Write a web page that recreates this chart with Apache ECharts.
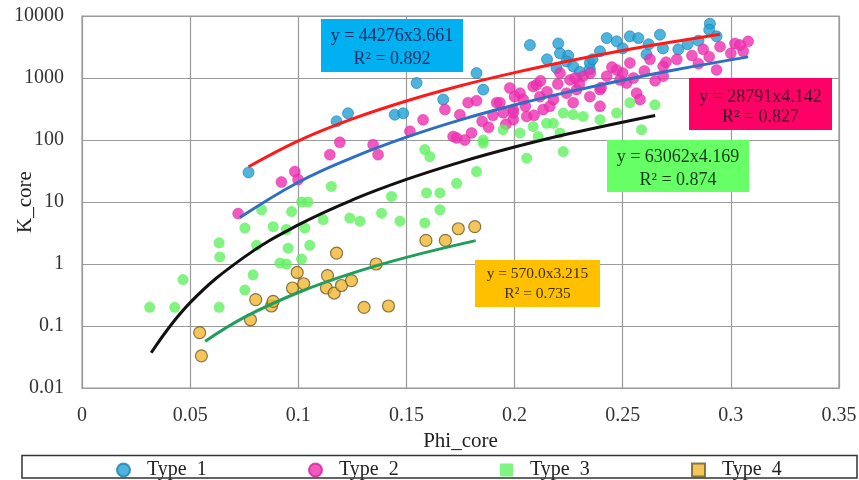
<!DOCTYPE html>
<html><head><meta charset="utf-8">
<script src="https://cdn.jsdelivr.net/npm/echarts/dist/echarts.min.js"></script>
<style>html,body{margin:0;padding:0;background:#fff}#c{width:859px;height:480px}</style>
</head><body><div id="c"></div><script>
// ---- data ----
const seriesNames = ['Type  1', 'Type  2', 'Type  3', 'Type  4'];
const xTickLabels = ['0', '0.05', '0.1', '0.15', '0.2', '0.25', '0.3', '0.35'];
const yTickLabels = ['0.01', '0.1', '1', '10', '100', '1000', '10000'];

const type1Phi = [0.077,0.1177,0.123,0.1446,0.1485,0.1547,0.1824,0.1855,0.167,0.2071,0.2202,0.221,0.2248,0.2194,0.224,0.2271,0.2302,0.2348,0.2348,0.2395,0.2426,0.2472,0.2533,0.2572,0.261,0.2672,0.2686,0.2757,0.2903,0.29,0.2934,0.25,0.236,0.215,0.262,0.28,0.285];
const type1K   = [30,200,270,256,270,830,1200,650,450,3400,3600,2500,2300,1450,1850,1540,1250,1400,1750,2700,4400,3900,4700,4400,2400,5000,3000,2900,7500,6000,4700,3000,2000,2000,3500,3500,4000];

const type2Phi = [0.0722,0.0922,0.0984,0.0999,0.1146,0.1192,0.1346,0.1369,0.1516,0.1577,0.1678,0.1785,0.1824,0.1732,0.177,0.1801,0.1747,0.1917,0.1994,0.1994,0.2025,0.2086,0.2056,0.1978,0.204,0.2102,0.2117,0.2132,0.1994,0.221,0.2256,0.2287,0.2348,0.2395,0.2317,0.2426,0.2472,0.2533,0.2518,0.2564,0.258,0.2626,0.2687,0.2687,0.275,0.1932,0.1948,0.2163,0.2271,0.224,0.2395,0.1716,0.2487,0.2872,0.2934,0.295,0.3019,0.308,0.3057,0.3042,0.282,0.27,0.185,0.19,0.205,0.215,0.22,0.23,0.235,0.245,0.26,0.265,0.218,0.209,0.196,0.188,0.2,0.212,0.228,0.24,0.25,0.255,0.285,0.29,0.3];
const type2K   = [6.5,21,31,23,58,92,84,58,138,212,310,400,430,108,100,130,256,400,310,213,570,730,240,690,450,780,500,310,275,1200,930,650,500,350,1070,1070,1350,1750,830,570,450,2000,1540,1070,2000,400,275,350,400,570,650,114,930,2900,1350,3200,3600,3900,2700,3400,2300,1800,200,250,350,600,800,800,1200,1500,1300,900,450,250,180,160,500,900,1000,700,1200,1000,1700,2200,2500];

const type3Phi = [0.0313,0.0429,0.0467,0.0634,0.0634,0.0637,0.0791,0.0753,0.0807,0.0915,0.0945,0.1015,0.0953,0.1053,0.083,0.0969,0.1015,0.0753,0.0884,0.103,0.1115,0.1238,0.1285,0.1385,0.147,0.1585,0.1655,0.1045,0.1153,0.0945,0.1431,0.1585,0.1593,0.1947,0.2056,0.1824,0.1732,0.1855,0.2025,0.2086,0.2225,0.2179,0.2271,0.2317,0.2395,0.2472,0.2533,0.2649,0.2587,0.221,0.2109,0.1855,0.2148,0.2225,0.1655,0.1608];
const type3K   = [0.2,0.2,0.56,0.2,2.2,1.3,0.67,0.38,2.0,1.04,1.0,1.2,1.8,2.0,7.5,7,10,3.8,4.0,3.8,5.2,5.5,4.9,6.6,4.9,4.6,7.5,10,17.8,3.6,12.3,70,14,147,51,31,20,100,130,165,65,186,257,240,213,272,400,370,147,130,114,89,186,272,14,54];

const type4Phi = [0.0544,0.0552,0.0779,0.0803,0.0876,0.0884,0.0973,0.0995,0.1025,0.1135,0.113,0.1166,0.1177,0.12,0.1246,0.1304,0.1417,0.136,0.159,0.168,0.174,0.1816];
const type4K   = [0.078,0.033,0.126,0.266,0.21,0.25,0.41,0.73,0.48,0.65,0.41,0.34,1.5,0.45,0.54,0.2,0.21,1.0,2.4,2.4,3.7,4.0];

// trend lines
const fit1Phi = [0.077,0.1,0.125,0.15,0.175,0.2,0.225,0.25,0.275,0.295];
const fit1K   = [37,97,219,426,750,1220,1880,2770,3920,5070];
const fit2Phi = [0.073,0.1,0.125,0.15,0.175,0.2,0.225,0.25,0.275,0.308];
const fit2K   = [5.6,20.8,52,111,211,366,597,923,1370,2190];
const fit3Phi = [0.032,0.05,0.075,0.1,0.125,0.15,0.175,0.2,0.225,0.265];
const fit3K   = [0.037,0.238,1.29,4.27,10.8,23.1,44,76.9,126,249];
const fit4Phi = [0.057,0.075,0.1,0.125,0.15,0.182];
const fit4K   = [0.057,0.138,0.347,0.712,1.28,2.38];

const fitLabels = [
  ['y = 44276x3.661', 'R\u00b2 = 0.892'],
  ['y = 28791x4.142', 'R\u00b2 = 0.827'],
  ['y = 63062x4.169', 'R\u00b2 = 0.874'],
  ['y = 570.0x3.215', 'R\u00b2 = 0.735']
];

// ---- chart ----
const FONT = '"Liberation Serif", "Times New Roman", serif';
const pairs = (xs, ys) => xs.map((x, i) => [x, ys[i]]);

const pointStyles = [
  {color: '#22a0d4', borderColor: '#1a80ad', borderWidth: 0.8},
  {color: '#ee30b0', borderColor: '#d41f9c', borderWidth: 0.5},
  {color: '#62f062', borderColor: '#62f062', borderWidth: 0},
  {color: '#f0b631', borderColor: '#6a5a2a', borderWidth: 1.2}
];
const pointSizes = [11, 11, 11, 12];
const legendIcons = ['circle', 'circle', 'rect', 'rect'];
const legendLeft = [116, 308, 500, 691];

const scatterData = [pairs(type1Phi, type1K), pairs(type2Phi, type2K), pairs(type3Phi, type3K), pairs(type4Phi, type4K)];
const fitData = [pairs(fit1Phi, fit1K), pairs(fit2Phi, fit2K), pairs(fit3Phi, fit3K), pairs(fit4Phi, fit4K)];
const fitColors = ['#ff1a1a', '#2f6fc2', '#111111', '#1f9e5c'];

const series = [];
scatterData.forEach((d, i) => series.push({
  name: seriesNames[i], type: 'scatter', data: d, symbol: 'circle',
  symbolSize: pointSizes[i], itemStyle: pointStyles[i], z: 2 + i
}));
fitData.forEach((d, i) => series.push({
  name: 'fit' + (i + 1), type: 'line', data: d, smooth: 0.4, showSymbol: false,
  lineStyle: {color: fitColors[i], width: 3}, z: 10
}));

const boxes = [
  {x: 321, y: 19, w: 142, h: 53, fill: '#00b0f0', tc: '#1c2f66', fs: 18, l1: 36.5, l2: 59},
  {x: 689, y: 78, w: 143, h: 52, fill: '#ff0066', tc: '#3a0a22', fs: 18, l1: 97, l2: 117},
  {x: 607, y: 140, w: 142, h: 52, fill: '#66ff66', tc: '#173a17', fs: 18, l1: 157, l2: 180},
  {x: 475, y: 260, w: 125, h: 47, fill: '#ffc000', tc: '#3d2f00', fs: 15.5, l1: 273.5, l2: 293.5}
];
const graphic = [];
boxes.forEach((b, i) => {
  graphic.push({type: 'rect', shape: {x: b.x, y: b.y, width: b.w, height: b.h}, style: {fill: b.fill}, z: 50});
  [b.l1, b.l2].forEach((ly, k) => graphic.push({
    type: 'text', x: b.x + b.w / 2, y: ly, z: 51,
    style: {text: fitLabels[i][k], fill: b.tc, font: b.fs + 'px ' + FONT, textAlign: 'center', textVerticalAlign: 'middle'}
  }));
});
graphic.push({type: 'rect', shape: {x: 22, y: 455.5, width: 835, height: 22.5}, style: {fill: 'none', stroke: '#333', lineWidth: 1.5}, z: 40});

const legend = seriesNames.map((n, i) => ({
  data: [{name: n, icon: legendIcons[i]}], left: legendLeft[i], top: 460,
  itemWidth: 13, itemHeight: 13, padding: 0, selectedMode: false,
  textStyle: {fontFamily: FONT, fontSize: 20, color: '#222', padding: [0, 0, 0, 12]}
}));

const chart = echarts.init(document.getElementById('c'), null, {renderer: 'canvas'});
chart.setOption({
  animation: false,
  backgroundColor: '#fff',
  grid: {left: 82, right: 20, top: 16, bottom: 92, containLabel: false, outerBoundsMode: 'none',
    show: true, borderColor: '#9a9a9a', borderWidth: 1.2},
  xAxis: {
    type: 'value', min: 0, max: 0.35, interval: 0.05,
    name: 'Phi_core', nameLocation: 'middle', nameGap: 43, nameMoveOverlap: false,
    nameTextStyle: {fontFamily: FONT, fontSize: 21, color: '#222'},
    axisLabel: {fontFamily: FONT, fontSize: 20, color: '#333', margin: 18,
      formatter: v => xTickLabels[Math.round(v / 0.05)]},
    axisTick: {show: false},
    axisLine: {lineStyle: {color: '#9a9a9a'}},
    splitLine: {lineStyle: {color: '#9a9a9a', width: 1.2}}
  },
  yAxis: {
    type: 'log', logBase: 10, min: 0.01, max: 10000,
    name: 'K_core', nameLocation: 'middle', nameGap: 46, nameMoveOverlap: false,
    nameTextStyle: {fontFamily: FONT, fontSize: 21, color: '#222'},
    axisLabel: {fontFamily: FONT, fontSize: 20, color: '#333', margin: 18,
      formatter: v => yTickLabels[Math.round(Math.log10(v)) + 2]},
    axisTick: {show: false},
    axisLine: {show: true, lineStyle: {color: '#9a9a9a'}},
    splitLine: {lineStyle: {color: '#9a9a9a', width: 1.2}}
  },
  legend: legend,
  series: series,
  graphic: graphic
});
</script></body></html>
